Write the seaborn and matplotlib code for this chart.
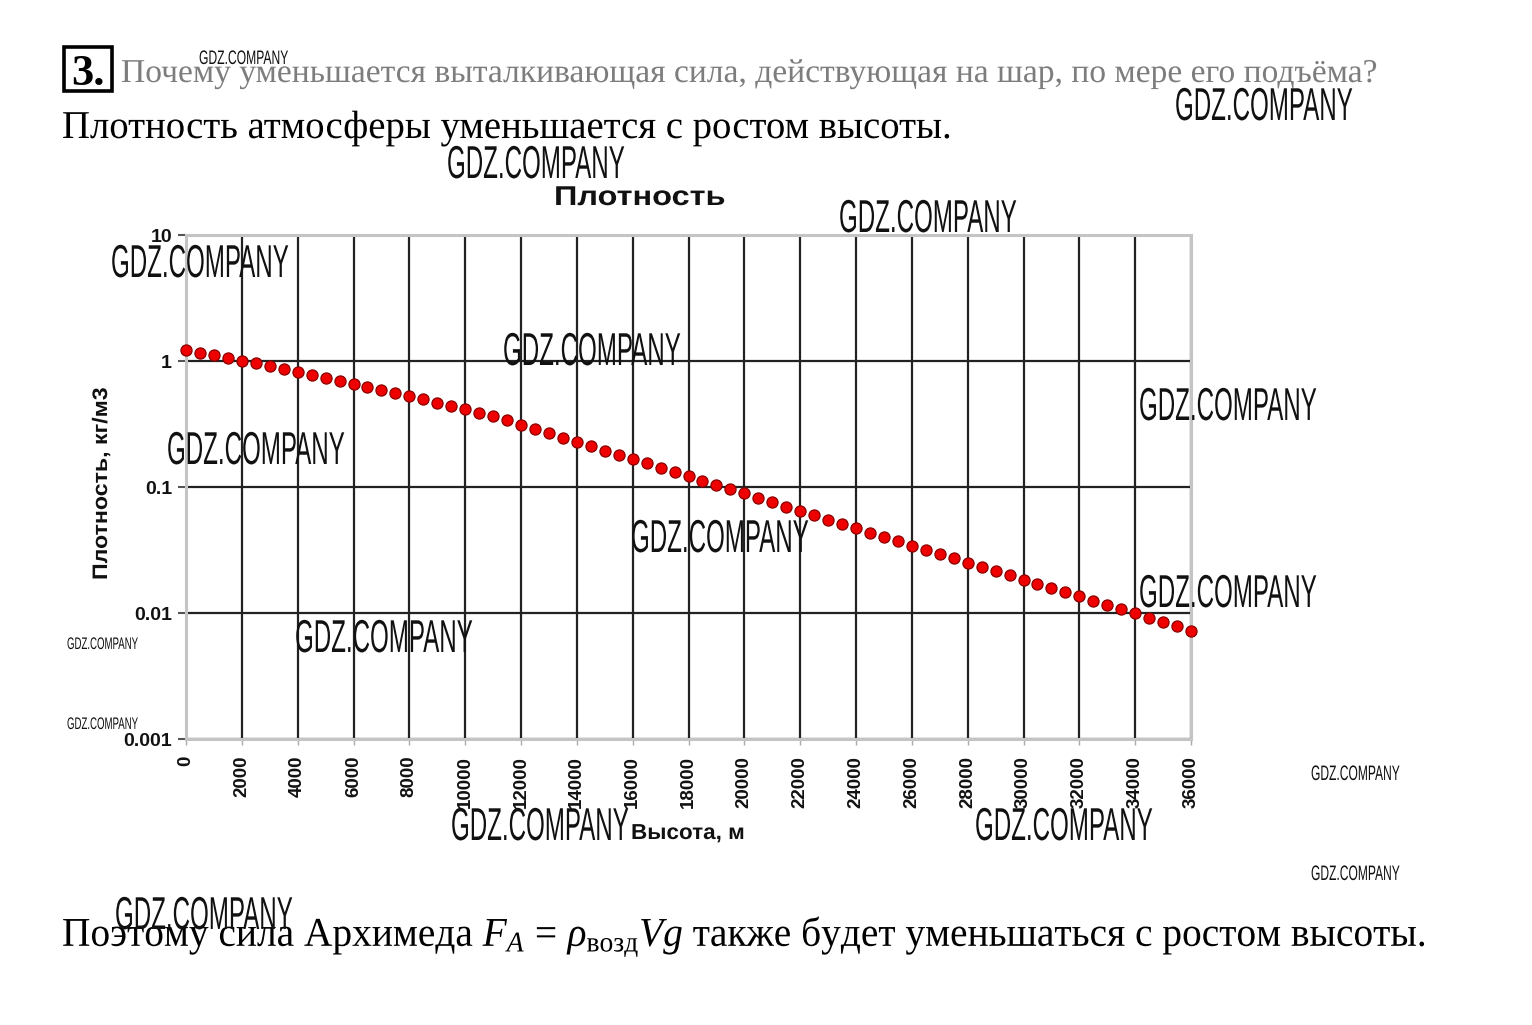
import matplotlib
matplotlib.use('Agg')
import matplotlib.pyplot as plt
import seaborn as sns
import pandas as pd
from matplotlib.patheffects import AbstractPathEffect
from matplotlib.transforms import Affine2D
from matplotlib.patches import Rectangle
from matplotlib.ticker import NullLocator

# ---------------- data ----------------
altitude_m = [0, 500, 1000, 1500, 2000, 2500, 3000, 3500, 4000, 4500,
              5000, 5500, 6000, 6500, 7000, 7500, 8000, 8500, 9000, 9500,
              10000, 10500, 11000, 11500, 12000, 12500, 13000, 13500, 14000, 14500,
              15000, 15500, 16000, 16500, 17000, 17500, 18000, 18500, 19000, 19500,
              20000, 20500, 21000, 21500, 22000, 22500, 23000, 23500, 24000, 24500,
              25000, 25500, 26000, 26500, 27000, 27500, 28000, 28500, 29000, 29500,
              30000, 30500, 31000, 31500, 32000, 32500, 33000, 33500, 34000, 34500,
              35000, 35500, 36000]
density = [1.225, 1.167, 1.112, 1.058, 1.007, 0.957, 0.9093, 0.8634, 0.8194, 0.777,
           0.7364, 0.6975, 0.6601, 0.6243, 0.59, 0.5572, 0.5258, 0.4958, 0.4671, 0.4397,
           0.4135, 0.3886, 0.3648, 0.3374, 0.3119, 0.2884, 0.2666, 0.2465, 0.2279, 0.2107,
           0.1948, 0.1801, 0.1665, 0.1539, 0.1423, 0.1316, 0.1217, 0.1125, 0.104, 0.09616,
           0.08891, 0.08205, 0.07572, 0.06989, 0.06451, 0.05957, 0.055, 0.05081, 0.04694, 0.04337,
           0.04008, 0.03706, 0.03426, 0.03168, 0.0293, 0.02711, 0.02508, 0.02321, 0.02148, 0.01989,
           0.01841, 0.01705, 0.01579, 0.01463, 0.01355, 0.01255, 0.01163, 0.01076, 0.00993, 0.009165,
           0.008463, 0.007835, 0.007258]
x_ticks = [0, 2000, 4000, 6000, 8000, 10000, 12000, 14000, 16000, 18000,
           20000, 22000, 24000, 26000, 28000, 30000, 32000, 34000, 36000]
x_tick_labels = [str(v) for v in x_ticks]
y_ticks = [0.001, 0.01, 0.1, 1, 10]
y_tick_labels = ['0.001', '0.01', '0.1', '1', '10']

chart_title = 'Плотность'
x_label = 'Высота, м'
y_label = 'Плотность, кг/м3'
task_number = '3.'
question = 'Почему уменьшается выталкивающая сила, действующая на шар, по мере его подъёма?'
answer1 = 'Плотность атмосферы уменьшается с ростом высоты.'
answer2 = r'Поэтому сила Архимеда $F_A\,=\,\rho_{\mathrm{возд}}Vg$ также будет уменьшаться с ростом высоты.'
watermark = 'GDZ.COMPANY'

# ---------------- style ----------------
sns.set_theme(style='white')
plt.rcParams['font.family'] = ['Liberation Sans', 'DejaVu Sans']
plt.rcParams['mathtext.fontset'] = 'custom'
plt.rcParams['mathtext.rm'] = 'Liberation Serif'
plt.rcParams['mathtext.it'] = 'Liberation Serif:italic'
plt.rcParams['mathtext.bf'] = 'Liberation Serif:bold'

W, H = 1532, 1025
fig = plt.figure(figsize=(W / 100, H / 100), dpi=100)
fig.patch.set_facecolor('white')

L, R, T, B = 186, 1191, 235, 739
ax = fig.add_axes([L / W, 1 - B / H, (R - L) / W, (B - T) / H])
df = pd.DataFrame({'alt': altitude_m, 'rho': density})
sns.scatterplot(data=df, x='alt', y='rho', ax=ax, s=64, color='#ee0000',
                edgecolor='#8a0000', linewidth=0.9, zorder=3, clip_on=False, legend=False)
ax.set_yscale('log')
ax.set_xlim(0, 36000)
ax.set_ylim(0.001, 10)
ax.set_xticks(x_ticks)
ax.set_xticklabels(x_tick_labels)
ax.set_yticks(y_ticks)
ax.set_yticklabels(y_tick_labels)
ax.yaxis.set_minor_locator(NullLocator())
ax.set_xlabel('')
ax.set_ylabel('')
ax.set_axisbelow(True)
ax.grid(True, which='major', color='#222222', linewidth=1.6)
for sp in ax.spines.values():
    sp.set_color('#c4c4c4')
    sp.set_linewidth(2.2)
ax.tick_params(axis='x', labelrotation=90, labelsize=13.5, length=4, width=1,
               color='#aaaaaa', pad=8, bottom=True)
ax.tick_params(axis='y', labelsize=14, length=6, width=1.5, color='#555555',
               pad=4, left=True)
for lab in ax.get_xticklabels() + ax.get_yticklabels():
    lab.set_fontweight('bold')
    lab.set_color('#111111')

# ---------------- page overlay ----------------
ov = fig.add_axes([0, 0, 1, 1])
ov.set_xlim(0, W)
ov.set_ylim(H, 0)
ov.axis('off')

class Stretch(AbstractPathEffect):
    def __init__(self, sx=1.0):
        super().__init__()
        self.sx = sx

    def draw_path(self, renderer, gc, tpath, affine, rgbFace=None):
        renderer.draw_path(gc, tpath, Affine2D().scale(self.sx, 1.0) + affine, rgbFace)

renderer = fig.canvas.get_renderer()

def place(s, x, y, length, cap, cap_ratio, rotation=0, **kw):
    size = cap / cap_ratio * 72 / 100
    t = ov.text(x, y, s, fontsize=size, ha='left', va='baseline',
                rotation=rotation, rotation_mode='anchor', **kw)
    bb = t.get_window_extent(renderer)
    natural = bb.height if rotation == 90 else bb.width
    t.set_path_effects([Stretch(length / natural)])
    return t

serif = ['Liberation Serif', 'DejaVu Serif']
sans = ['Liberation Sans', 'DejaVu Sans']
narrow = ['Liberation Sans Narrow', 'Liberation Sans', 'DejaVu Sans']

# header
ov.add_patch(Rectangle((64, 47), 48, 44, fill=False, lw=2.6, ec='black'))
ov.text(88, 85, task_number, fontsize=30 / 0.676 * 0.72, fontweight='bold',
        family=serif, ha='center', va='baseline', color='black')
place(question, 121, 82, 1257, 22, 0.66, family=serif, color='#7d7d7d')
place(answer1, 62, 138, 890, 26, 0.66, family=serif, color='black')
place(answer2, 62, 946, 1363, 27, 0.66, family=serif, color='black')

# chart texts
place(chart_title, 554, 205, 172, 19.5, 0.716, family=sans, fontweight='bold', color='#111111')
place(x_label, 631, 839, 114, 15.5, 0.716, family=sans, fontweight='bold', color='#111111')
place(y_label, 107, 580, 194, 15, 0.716, rotation=90, family=sans, fontweight='bold', color='#111111')

# watermarks: (left, baseline, width, cap height)
marks = [(199, 64, 89, 14), (1175, 120, 178, 33), (447, 178, 178, 33),
         (839, 232, 178, 33), (111, 277, 178, 33), (503, 365, 178, 33),
         (1139, 420, 178, 33), (167, 464, 178, 33), (631, 552, 178, 33),
         (1139, 607, 178, 33), (295, 652, 178, 33), (67, 649, 71, 12),
         (67, 729, 71, 12), (1311, 780, 89, 15), (451, 840, 178, 33),
         (975, 840, 178, 33), (1311, 880, 89, 15), (115, 929, 178, 33)]
for (mx, my, mw, mh) in marks:
    place(watermark, mx, my, mw, mh, 0.716, family=narrow, color='#111111')

fig.savefig('out.png', dpi=100, facecolor='white')
